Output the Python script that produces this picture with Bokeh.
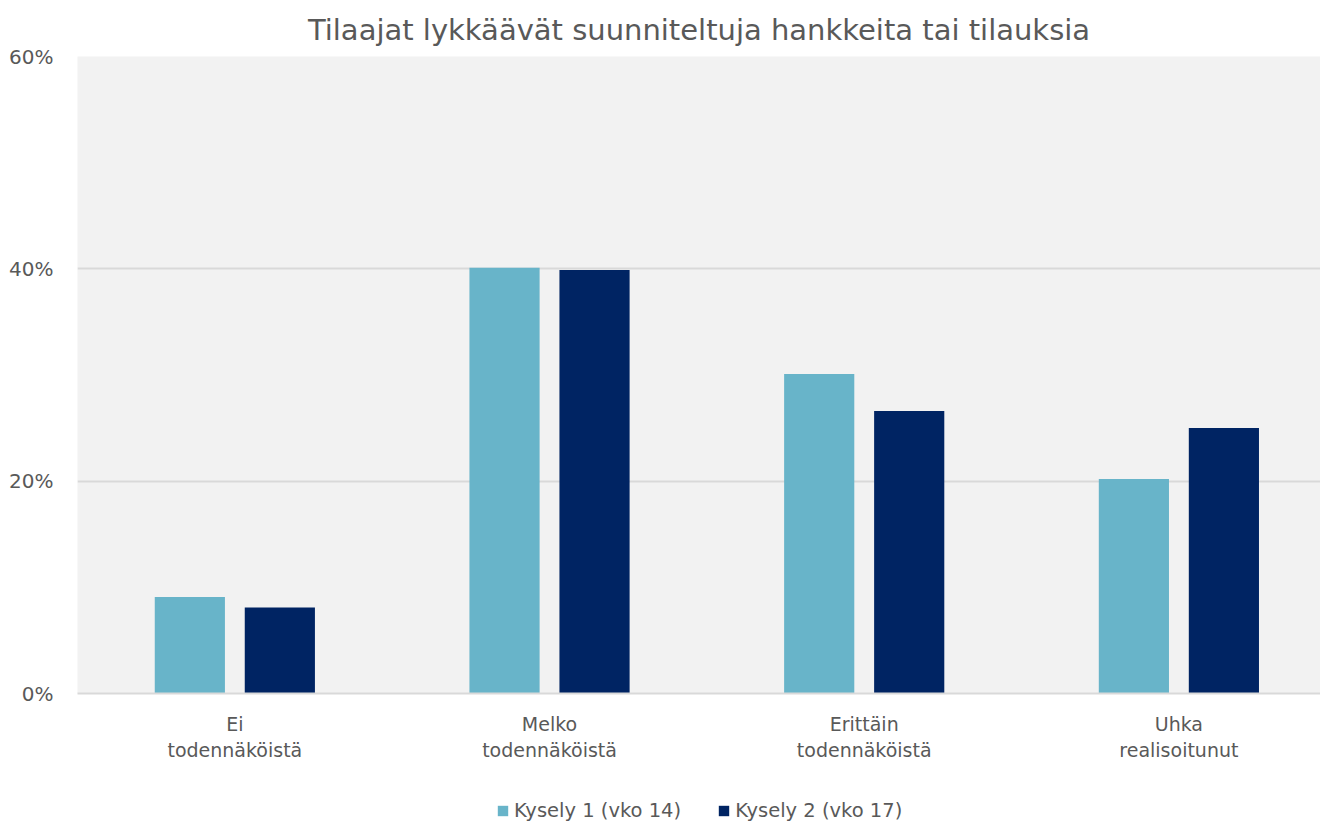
from bokeh.plotting import figure
from bokeh.layouts import column
from bokeh.models import (FixedTicker, PrintfTickFormatter, Legend, LegendItem, Range1d)
from bokeh.embed import file_html
from bokeh.resources import INLINE

categories = ["Ei\ntodennäköistä", "Melko\ntodennäköistä", "Erittäin\ntodennäköistä", "Uhka\nrealisoitunut"]
series_names = ["Kysely 1 (vko 14)", "Kysely 2 (vko 17)"]
kysely1 = [9.1, 40.1, 30.1, 20.2]
kysely2 = [8.1, 39.9, 26.6, 25.0]
y_ticks = [0, 20, 40, 60]

colors = ["#68B4C9", "#002463"]
FONT = "DejaVu Sans"
TXT = "#595959"

p = figure(width=1320, height=780, output_backend="svg", toolbar_location=None,
           x_range=Range1d(-0.5, 3.45), y_range=Range1d(0, 60),
           title="Tilaajat lykkäävät suunniteltuja hankkeita tai tilauksia")
p.min_border_left = 77
p.min_border_right = 0
p.min_border_top = 56
p.min_border_bottom = 87
p.background_fill_color = "#F2F2F2"
p.border_fill_color = "white"
p.outline_line_color = None

p.title.align = "center"
p.title.text_font = FONT
p.title.text_font_size = "29px"
p.title.text_font_style = "normal"
p.title.text_color = TXT
p.title.standoff = 20

xs = list(range(len(categories)))
r1 = p.vbar(x=[x - 0.143 for x in xs], top=kysely1, width=0.223, fill_color=colors[0], line_color=None)
r2 = p.vbar(x=[x + 0.143 for x in xs], top=kysely2, width=0.223, fill_color=colors[1], line_color=None)

p.xaxis.ticker = FixedTicker(ticks=xs)
p.xaxis.major_label_overrides = {i: c for i, c in enumerate(categories)}
p.xaxis.axis_line_color = "#D9D9D9"
p.xaxis.axis_line_width = 2
p.xaxis.major_tick_line_color = None
p.xaxis.minor_tick_line_color = None
p.xaxis.major_label_text_font = FONT
p.xaxis.major_label_text_font_size = "19px"
p.xaxis.major_label_text_color = TXT
p.xaxis.major_label_standoff = 13

p.yaxis.ticker = FixedTicker(ticks=y_ticks)
p.yaxis.formatter = PrintfTickFormatter(format="%d%%")
p.yaxis.axis_line_color = None
p.yaxis.major_tick_line_color = None
p.yaxis.minor_tick_line_color = None
p.yaxis.major_label_text_font = FONT
p.yaxis.major_label_text_font_size = "20px"
p.yaxis.major_label_text_color = TXT
p.yaxis.major_label_standoff = 18

p.xgrid.grid_line_color = None
p.ygrid.grid_line_color = "#D9D9D9"
p.ygrid.grid_line_width = 2

# legend strip below the chart (renderers hold the series data, kept out of view)
lg = figure(width=1320, height=44, output_backend="svg", toolbar_location=None,
            x_axis_location=None, y_axis_location=None,
            x_range=Range1d(-0.5, 3.45), y_range=Range1d(1000, 1001))
lg.min_border_left = 77
lg.min_border_right = 0
lg.min_border_top = 0
lg.min_border_bottom = 0
lg.outline_line_color = None
lg.background_fill_color = "white"
lg.border_fill_color = "white"
lg.xgrid.visible = False
lg.ygrid.visible = False
d1 = lg.vbar(x=xs, top=kysely1, width=0.223, fill_color=colors[0], line_color=None)
d2 = lg.vbar(x=xs, top=kysely2, width=0.223, fill_color=colors[1], line_color=None)

legend = Legend(items=[LegendItem(label=series_names[0], renderers=[d1]),
                       LegendItem(label=series_names[1], renderers=[d2])],
                orientation="horizontal", location=(419, 2))
legend.label_text_font = FONT
legend.label_text_font_size = "19.5px"
legend.label_text_color = TXT
legend.glyph_width = 13
legend.glyph_height = 13
legend.spacing = 36
legend.label_standoff = 5
legend.border_line_color = None
legend.background_fill_alpha = 0
legend.margin = 0
legend.padding = 4
lg.add_layout(legend, "center")

layout = column(p, lg, spacing=0)
open("out.html", "w").write(file_html(layout, INLINE))
